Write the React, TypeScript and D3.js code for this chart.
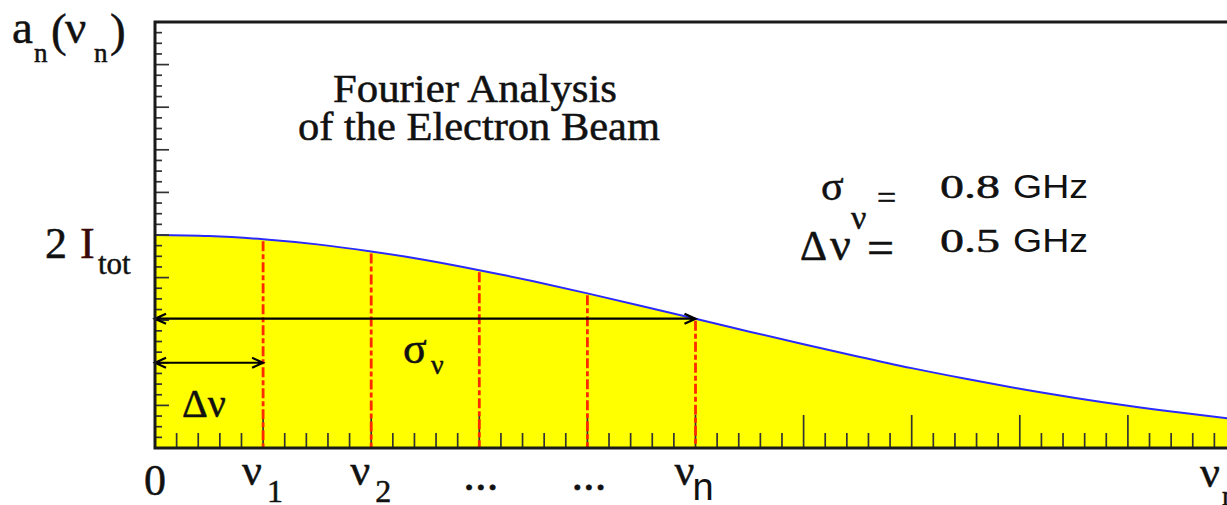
import React from "react";
import * as d3 from "d3";

// ---- data ----
// frequency in units of the harmonic spacing Δν, amplitude relative to 2·I_tot
const freqIndex = [0, 0.5, 1, 1.5, 2, 2.5, 3, 3.5, 4, 4.5, 5, 5.5, 6, 6.5, 7, 7.5, 8, 8.5, 9, 9.5, 10];
const amplitude = [1.0, 0.995, 0.98, 0.956, 0.923, 0.883, 0.835, 0.783, 0.726, 0.667, 0.607, 0.546, 0.487, 0.43, 0.375, 0.325, 0.278, 0.236, 0.198, 0.165, 0.135];
const harmonics = [1, 2, 3, 4, 5];
const sigmaIndex = 5;
const deltaArrowLevel = 0.4;
const xTickLabels = ["0", "ν", "ν", "...", "...", "ν"];
const xTickSubs = ["", "1", "2", "", "", "n"];
const xTickPositions = [0, 1, 2, 3, 4, 5];
const titleLines = ["Fourier Analysis", "of the Electron Beam"];
const paramValues = ["0.8", "0.5"];
const paramUnit = "GHz";

const W = 1227;
const H = 505;
const SERIF = "'Liberation Serif', 'DejaVu Serif', serif";
const SANS = "'Liberation Sans', Arial, sans-serif";

export default function App() {
  const x = d3.scaleLinear().domain([0, 10]).range([155, 1236]);
  const y = d3.scaleLinear().domain([0, 2]).range([448, 22]);

  const pts: [number, number][] = freqIndex.map((f, i) => [f, amplitude[i]]);
  const area = d3
    .area<[number, number]>()
    .x((d) => x(d[0]))
    .y0(y(0))
    .y1((d) => y(d[1]))
    .curve(d3.curveNatural);
  const line = d3
    .line<[number, number]>()
    .x((d) => x(d[0]))
    .y((d) => y(d[1]))
    .curve(d3.curveNatural);

  const ampAt = (f: number) => amplitude[freqIndex.indexOf(f)];

  const xMinor = d3.range(0, 10.001, 0.2);
  const yMinor = d3.range(0, 2.001, 0.05);
  const isMajor = (v: number, step: number) => Math.abs(v / step - Math.round(v / step)) < 1e-6;

  const arrow = (x0: number, x1: number, yy: number) => {
    const a = 11, b = 5;
    return `M${x0},${yy}L${x1},${yy}M${x0 + a},${yy - b}L${x0},${yy}L${x0 + a},${yy + b}M${x1 - a},${yy - b}L${x1},${yy}L${x1 - a},${yy + b}`;
  };

  const sigY = y(ampAt(sigmaIndex));
  const dY = y(deltaArrowLevel);

  return (
    <svg width={W} height={H} style={{ position: "absolute", left: 0, top: 0, display: "block", background: "#fff" }}>
      {/* filled spectrum */}
      <path d={area(pts) || ""} fill="#ffff00" />
      <path d={line(pts) || ""} fill="none" stroke="#2a2aff" strokeWidth={2} />

      {/* ticks */}
      {xMinor.map((v, i) => (
        <line key={"xt" + i} x1={x(v)} x2={x(v)} y1={y(0)} y2={y(0) - (isMajor(v, 1) ? 33 : 15)} stroke="#333" strokeWidth={1.7} />
      ))}
      {yMinor.map((v, i) => (
        <line key={"yt" + i} x1={x(0)} x2={x(0) + (isMajor(v, 0.2) ? 14 : 7)} y1={y(v)} y2={y(v)} stroke="#333" strokeWidth={1.7} />
      ))}

      {/* harmonic lines */}
      {harmonics.map((h) => (
        <line key={"h" + h} x1={x(h)} x2={x(h)} y1={y(ampAt(h)) + 2} y2={y(0)} stroke="#ff2a00" strokeWidth={2.8} strokeDasharray="10,3,5,3" />
      ))}

      {/* arrows */}
      <path d={arrow(x(0), x(sigmaIndex), sigY)} fill="none" stroke="#000" strokeWidth={2.3} />
      <path d={arrow(x(0), x(1), dY)} fill="none" stroke="#000" strokeWidth={2.1} />

      {/* frame */}
      <path d={`M${W + 5},${y(2)}L${x(0)},${y(2)}L${x(0)},${y(0)}L${W + 5},${y(0)}`} fill="none" stroke="#1a1a1a" strokeWidth={3} />

      <g fontFamily={SERIF} fill="#111" stroke="#111" strokeWidth={0.5}>
        {/* y axis label a_n(ν_n) */}
        <text x={12} y={43} fontSize={47}>a</text>
        <text x={34} y={62} fontSize={27}>n</text>
        <text x={51} y={46} fontSize={47}>(</text>
        <text x={65} y={43} fontSize={47}>ν</text>
        <text x={94} y={62} fontSize={27}>n</text>
        <text x={110} y={46} fontSize={47}>)</text>

        {/* 2 I_tot */}
        <text x={45} y={258} fontSize={44}>2</text>
        <text x={80} y={258} fontSize={44} fill="#3a0808" stroke="#3a0808">I</text>
        <text x={98} y={274} fontSize={31}>tot</text>

        {/* title */}
        <text x={475} y={102} fontSize={40} textAnchor="middle" textLength={284} lengthAdjust="spacingAndGlyphs">{titleLines[0]}</text>
        <text x={479} y={140} fontSize={40} textAnchor="middle" textLength={362} lengthAdjust="spacingAndGlyphs">{titleLines[1]}</text>

        {/* parameters */}
        <text x={821} y={200} fontSize={42}>σ</text>
        <text x={851} y={229} fontSize={34}>ν</text>
        <text x={877} y={209} fontSize={34}>=</text>
        <text x={800} y={260} fontSize={42}>Δ</text>
        <text x={830} y={260} fontSize={46}>ν</text>
        <text x={867} y={264} fontSize={48}>=</text>
        <text x={940} y={198} fontSize={34} textLength={60} lengthAdjust="spacingAndGlyphs">{paramValues[0]}</text>
        <text x={940} y={252} fontSize={34} textLength={60} lengthAdjust="spacingAndGlyphs">{paramValues[1]}</text>

        {/* inner labels */}
        <text x={403} y={363} fontSize={44}>σ</text>
        <text x={431} y={374} fontSize={28}>ν</text>
        <text x={182} y={417} fontSize={40}>Δν</text>

        {/* x tick labels */}
        {xTickPositions.map((p, i) => {
          const lab = xTickLabels[i];
          if (lab === "0") return <text key={"xl" + i} x={x(p)} y={495} fontSize={44} textAnchor="middle">0</text>;
          if (lab === "...") return <text key={"xl" + i} x={x(p) - 16} y={490} fontSize={44} textLength={35} lengthAdjust="spacingAndGlyphs">...</text>;
          const sub = xTickSubs[i];
          return (
            <g key={"xl" + i}>
              <text x={x(p) - 21} y={485} fontSize={44}>{lab}</text>
              {sub === "n" ? (
                <text x={x(p) - 3} y={500} fontSize={38} fontFamily={SANS} strokeWidth={0}>{sub}</text>
              ) : (
                <text x={x(p) + 4} y={502} fontSize={32}>{sub}</text>
              )}
            </g>
          );
        })}
        <text x={1200} y={487} fontSize={44}>ν</text>
        <text x={1222} y={505} fontSize={28}>max</text>
      </g>
      <g fontFamily={SANS} fill="#111">
        <text x={1013} y={198} fontSize={33} textLength={75} lengthAdjust="spacingAndGlyphs">{paramUnit}</text>
        <text x={1013} y={252} fontSize={33} textLength={75} lengthAdjust="spacingAndGlyphs">{paramUnit}</text>
      </g>
    </svg>
  );
}
